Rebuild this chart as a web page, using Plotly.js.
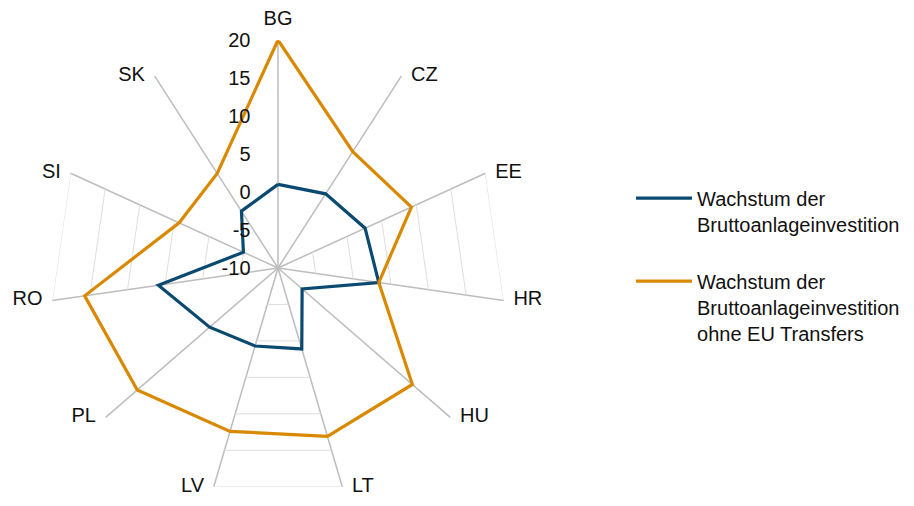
<!DOCTYPE html>
<html><head><meta charset="utf-8">
<script src="https://cdn.plot.ly/plotly-3.0.1.min.js"></script>
<style>html,body{margin:0;padding:0;background:#fff}#chart{width:914px;height:506px}</style>
</head><body><div id="chart"></div>
<script>
const categories = ['BG','CZ','EE','HR','HU','LT','LV','PL','RO','SI','SK'];
const growth = [1.0, 1.6, 2.6, 3.4, -5.8, 1.1, 0.7, 1.9, 5.9, -5.0, -1.1];
const growthNoEU = [20.0, 8.2, 9.3, 3.4, 13.4, 13.1, 12.4, 14.5, 15.7, 4.3, 4.8];
const seriesNames = ['Wachstum der<br>Bruttoanlageinvestition', 'Wachstum der<br>Bruttoanlageinvestition<br>ohne EU Transfers'];
const radialTicks = [-10, -5, 0, 5, 10, 15, 20];
const radialTickText = ['-10', '-5', '0', '5', '10', '15', '20'];
const gridTicks = [-5, 0, 5, 10, 15, 20];
const gridSectors = [['EE','HR'], ['LV','LT'], ['SI','RO']];
const rMin = -10, rMax = 20;

const gr = [], gt = [];
gridSectors.forEach(s => gridTicks.forEach(t => { gr.push(t, t, null); gt.push(s[0], s[1], s[0]); }));

const close = a => a.concat([a[0]]);
const cats = close(categories);

// category label positions chosen from each spoke's direction
const labelPos = categories.map((c, i) => {
  const a = i * 360 / categories.length;
  if (a < 10 || a > 350) return 'top center';
  return a < 180 ? 'middle right' : 'middle left';
});

const traces = [
  {type:'scatterpolar', mode:'lines', r:gr, theta:gt, connectgaps:false, line:{color:'#dedede', width:1}, showlegend:false, hoverinfo:'skip'},
  {type:'scatterpolar', mode:'lines', r:close(growth), theta:cats, name:seriesNames[0], legendgroup:'a', line:{color:'#0a4a70', width:3.2}},
  {type:'scatterpolar', mode:'lines', r:close(growthNoEU), theta:cats, name:seriesNames[1], legendgroup:'b', line:{color:'#d98900', width:3.2}},
  {type:'scatterpolar', mode:'markers+text', r:categories.map(() => rMax), theta:categories, text:categories,
   textposition:labelPos, marker:{size:14, opacity:0}, textfont:{size:20, color:'#111'},
   cliponaxis:false, showlegend:false, hoverinfo:'skip'}
];

const layout = {
  width:914, height:506,
  margin:{l:0, r:0, t:0, b:0},
  paper_bgcolor:'#fff',
  font:{family:'Liberation Sans, Arial, sans-serif', size:20, color:'#111'},
  showlegend:true,
  legend:{x:0.6904, y:0.647, xanchor:'left', yanchor:'top', tracegroupgap:28, itemwidth:56, valign:'top',
    font:{size:20, color:'#111'}, bgcolor:'rgba(0,0,0,0)'},
  polar:{
    domain:{x:[50/914, 506/914], y:[10/506, 466/506]},
    bgcolor:'rgba(0,0,0,0)',
    gridshape:'linear',
    angularaxis:{type:'category', categoryarray:categories, rotation:90, direction:'clockwise',
      showgrid:true, gridcolor:'#bdbdbd', gridwidth:1.5, showline:false, ticks:'', showticklabels:false},
    radialaxis:{range:[rMin, rMax], tickvals:radialTicks, ticktext:radialTickText, angle:90, side:'counterclockwise',
      showgrid:false, showline:false, ticks:'outside', ticklen:20, tickcolor:'rgba(0,0,0,0)', tickangle:90,
      tickfont:{size:20, color:'#111'}}
  }
};
Plotly.newPlot('chart', traces, layout, {displayModeBar:false, staticPlot:true});
</script></body></html>
